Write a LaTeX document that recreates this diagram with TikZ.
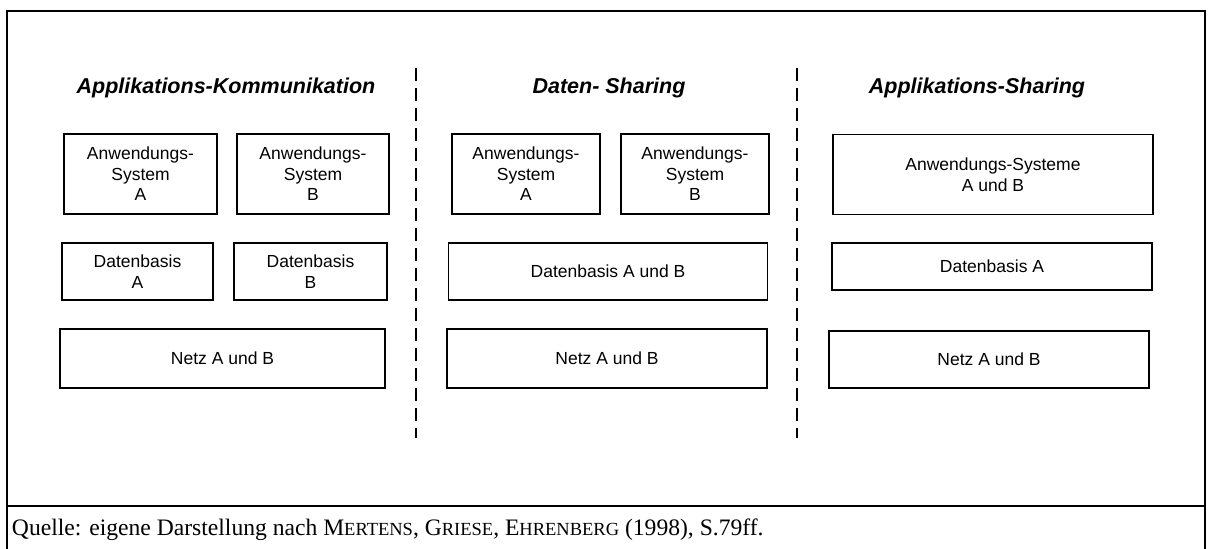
\documentclass[tikz,border=0pt]{standalone}
\usepackage{fontspec}
\setmainfont{Liberation Serif}
\setsansfont{Liberation Sans}
\newfontfamily\boxfont{Liberation Sans}
\newcommand\kap[2]{#1{\fontsize{18.5}{18.5}\selectfont #2}}

\begin{document}
\begin{tikzpicture}[x=1pt,y=-1pt,
  every node/.style={outer sep=0pt},
  box/.style={draw, line width=1.3pt, inner sep=0pt, align=center,
    font=\boxfont\fontsize{17.5}{20.5}\selectfont},
  titel/.style={font=\sffamily\bfseries\itshape\fontsize{21.5}{21.5}\selectfont},
  trenn/.style={line width=1.2pt, dash pattern=on 13pt off 7pt}]
\useasboundingbox (0,0) rectangle (1211,549);

% Rahmen
\draw[line width=1.2pt] (7,549) -- (7,11) -- (1205,11) -- (1205,549);
\draw[line width=1.2pt] (7,506) -- (1205,506);

% Trennlinien
\coordinate (t1o) at (416,68);
\coordinate (t1u) at (416,438);
\coordinate (t2o) at (797,68);
\coordinate (t2u) at (797,438);
\draw[trenn] (t1o) -- (t1u);
\draw[trenn] (t2o) -- (t2u);

% Applikations-Kommunikation
\node[titel] (titel1) at (226,88) {Applikations-Kommunikation};
\node[box, minimum width=153pt, minimum height=80pt] (asA1) at (140.5,174) {Anwendungs-\\System\\A};
\node[box, minimum width=152pt, minimum height=80pt] (asB1) at (313,174) {Anwendungs-\\System\\B};
\node[box, minimum width=151pt, minimum height=57pt] (dbA1) at (137.5,271.5) {Datenbasis\\A};
\node[box, minimum width=153pt, minimum height=57pt] (dbB1) at (310.5,271.5) {Datenbasis\\B};
\node[box, minimum width=325pt, minimum height=59pt] (netz1) at (222.5,358.5) {Netz A und B};

% Daten-Sharing
\node[titel] (titel2) at (609,88) {Daten- Sharing};
\node[box, minimum width=148pt, minimum height=80pt] (asA2) at (526,174) {Anwendungs-\\System\\A};
\node[box, minimum width=148pt, minimum height=80pt] (asB2) at (695,174) {Anwendungs-\\System\\B};
\node[box, minimum width=319pt, minimum height=57pt] (db2) at (608,271.5) {Datenbasis A und B};
\node[box, minimum width=320pt, minimum height=59pt] (netz2) at (607,358.5) {Netz A und B};

% Applikations-Sharing
\node[titel] (titel3) at (977,88) {Applikations-Sharing};
\node[box, minimum width=320pt, minimum height=80pt] (as3) at (993,174.5) {Anwendungs-Systeme\\A und B};
\node[box, minimum width=320pt, minimum height=47pt] (db3) at (992,266.5) {Datenbasis A};
\node[box, minimum width=320pt, minimum height=57pt] (netz3) at (989,359.5) {Netz A und B};

% Quelle
\node[anchor=base west, inner sep=0pt, font=\fontsize{23.6}{23.6}\selectfont] (quelle) at (12,535)
  {Quelle: eigene Darstellung nach \kap{M}{ERTENS}, \kap{G}{RIESE}, \kap{E}{HRENBERG} (1998), S.79ff.};
\end{tikzpicture}
\end{document}
